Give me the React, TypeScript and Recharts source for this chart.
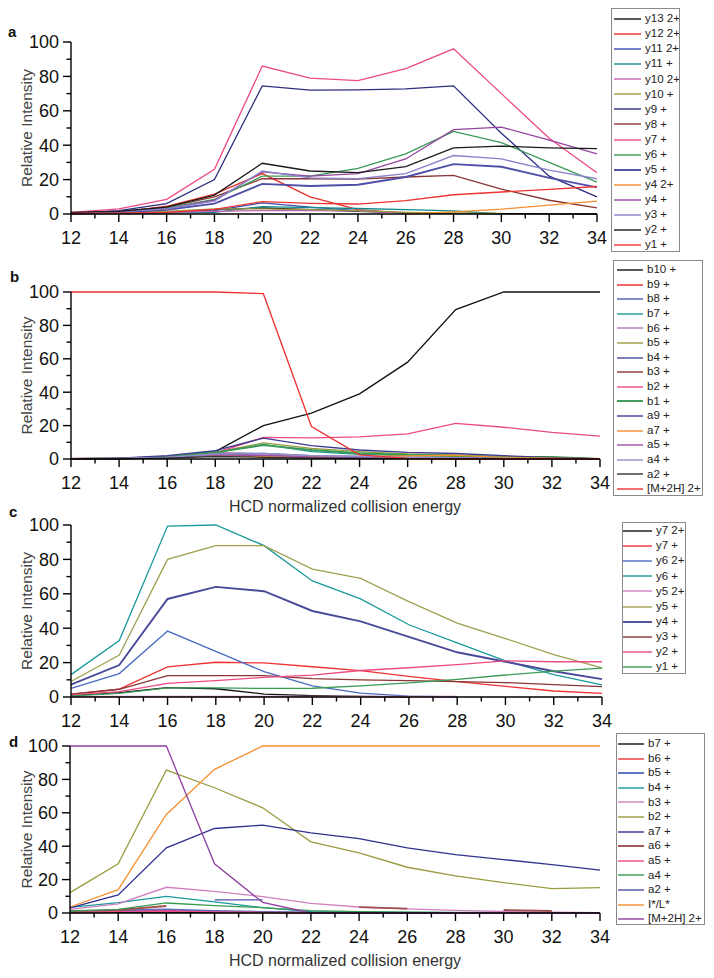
import React from "react";
import { LineChart, Line, XAxis, YAxis, Legend } from "recharts";

const FONT = '"Liberation Sans", Arial, Helvetica, sans-serif';

const energy = [12, 14, 16, 18, 20, 22, 24, 26, 28, 30, 32, 34];
const energyTicks = [12, 13, 14, 15, 16, 17, 18, 19, 20, 21, 22, 23, 24, 25, 26, 27, 28, 29, 30, 31, 32, 33, 34];
const intensityTicks = [0, 10, 20, 30, 40, 50, 60, 70, 80, 90, 100];

// panel a
const aY13_2 = [0.3, 0.5, 1.2, 2.5, 3.5, 2.5, 1.5, 0.8, 0.4, 0.2, 0.1, 0];
const aY12_2 = [0.5, 1, 4.5, 11.5, 23.5, 10, 2.5, 0.5, null, null, null, null];
const aY11_2 = [0.3, 0.5, 1, 2, 6.5, 4, 2, 0.5, null, null, null, null];
const aY11 = [0.2, 0.3, 0.5, 1, 4.3, 3.7, 3.2, 2.5, 1.8, 0, null, null];
const aY10_2 = [0.3, 0.5, 1, 1.5, 2, 2, 1.8, 0.5, null, null, null, null];
const aY10 = [0.3, 0.6, 1.5, 3, 3, 2.5, 2, 1, 0.5, 0.3, null, null];
const aY9 = [0.5, 2, 6, 20, 74.5, 72, 72.2, 72.8, 74.5, 47, 22, 10];
const aY8 = [0.5, 1.5, 4, 10, 20.5, 20.5, 20.3, 21.5, 22.5, 14.5, 8, 3.5];
const aY7 = [1, 3, 8.5, 26, 86, 79, 77.5, 84.5, 96, 70, 44, 24];
const aY6 = [0.5, 1.5, 3.5, 8.5, 22, 22, 26.5, 35, 48, 41.5, 30, 18.5];
const aY5 = [0.3, 1, 2.5, 6, 17.5, 16.3, 17, 21.5, 29, 27.5, 21, 15.5];
const aY4_2 = [null, null, null, null, null, null, null, 0, 1.2, 2.8, 5.2, 7.5];
const aY4 = [0.5, 1.5, 3, 8, 24.5, 22, 23.5, 32, 49, 50.5, 43, 35];
const aY3 = [0.5, 1.2, 3, 7.5, 25, 21, 20.5, 23.5, 34, 32, 25.5, 20.5];
const aY2 = [1, 1.5, 4, 11, 29.5, 25, 24, 27.5, 38.5, 39.5, 38.5, 38];
const aY1 = [0.3, 0.5, 1, 2.7, 7.2, 6.2, 5.8, 7.8, 11.2, 12.8, 14.3, 16];

// panel b
const bB10 = [0, 0.3, 1.2, 4.4, 20, 27.5, 39, 58, 89.5, 100, 100, 100];
const bB9 = [0.2, 0.3, 1, 3.5, 3, 1.5, 1, 0.5, 0.5, 0.3, 0.2, 0];
const bB8 = [0.1, 0.3, 1.2, 3.5, 3.3, 2, 1.5, 1, 0.8, 0.5, 0.3, 0];
const bB7 = [0.1, 0.3, 1.2, 3.8, 8.8, 4.4, 2.8, 2, 1.6, 1, 0.6, 0];
const bB6 = [0.1, 0.2, 1, 3, 2.5, 1.5, 1, 0.6, 0.5, 0.3, 0.2, 0];
const bB5 = [0.1, 0.3, 1.3, 4, 9.6, 6.4, 4.4, 3, 2.4, 1.4, 0.6, 0];
const bB4 = [0.1, 0.3, 1, 3, 2, 1.2, 0.8, 0.5, 0.4, 0.3, 0.2, 0];
const bB3 = [0.1, 0.2, 0.8, 2.5, 1.5, 1, 0.8, 0.5, 0.4, 0.5, 1, 0];
const bB2 = [0.1, 0.3, 1.2, 3.6, 13, 12.7, 13.2, 15, 21.3, 19, 16, 13.7];
const bB1 = [0.1, 0.3, 1.2, 4, 8.3, 5.4, 3.4, 2.4, 1.8, 1.2, 1.3, 0];
const bA9 = [0.2, 0.5, 2, 5, 12.5, 8, 5.4, 4, 3.3, 2, 0.8, 0];
const bA7 = [0.1, 0.2, 0.8, 2, 1.5, 1.5, 1.5, 1.8, 2.2, 1, 0.5, 0];
const bA5 = [0.1, 0.2, 0.8, 2.5, 2.2, 1.2, 0.8, 0.5, 0.3, 0.2, 0.1, 0];
const bA4 = [0.1, 0.3, 1, 3, 3.3, 2, 1.5, 1, 0.6, 0.4, 0.2, 0];
const bA2 = [0, 0.1, 0.5, 1.5, 1, 0.5, 0.3, 0.2, 0.1, 0.1, 0.1, 0];
const bPrecursor = [100, 100, 100, 100, 99, 19.5, 2.5, 0.4, 0, 0, 0, 0];

// panel c
const cY7_2 = [0.8, 2.5, 5.4, 4.8, 1.7, 0.8, 0.4, 0, null, null, null, null];
const cY7 = [1.7, 4.6, 17.5, 20.2, 19.8, 17.6, 15.3, 12, 8.9, 6.2, 3.5, 2.1];
const cY6_2 = [5, 13.6, 38.3, 26.5, 14.8, 6.5, 2.3, 0.5, 0, null, null, null];
const cY6 = [13, 32.8, 99.4, 100, 88, 67.5, 57, 42, 31.5, 21, 13, 7];
const cY5_2 = [0.2, 0.3, 0.3, 0.3, 0.3, 0.3, 0.3, 0.3, 0.3, null, null, null];
const cY5 = [9, 24.4, 80, 88, 88, 74.4, 69, 55.5, 43, 34, 24.6, 17];
const cY4 = [7.2, 18.6, 57, 64, 61.5, 50, 44, 35, 26, 20.5, 15, 10.4];
const cY3 = [1.6, 4.5, 12.4, 12.4, 12.4, 10.7, 9.9, 9.5, 8.9, 8.4, 7.2, 6];
const cY2 = [1.2, 3.1, 7.9, 9.5, 11.4, 12.7, 15.4, 17, 18.8, 21, 20.5, 20.5];
const cY1 = [0.6, 2.1, 5.3, 5.3, 5, 5.1, 6.5, 8.2, 10.2, 12.8, 15, 16.8];

// panel d
const dB7 = [0.2, 0.4, 0.5, 0.3, 0.2, 0.1, 0, 0, 0, 0, 0, 0];
const dB6 = [0.3, 1, 1.6, 0.8, 0.5, 0.3, 0.2, 0.1, 0, 0, 0, 0];
const dB5 = [0.8, 1.5, 2.2, 1.2, 0.7, 0.4, 0.2, 0.1, 0.1, 0, 0, 0];
const dB4 = [3.4, 6.2, 10, 6.6, 3.2, 0.8, 0.5, 0.3, 0.2, 0.1, 0, 0];
const dB3 = [2.2, 5.5, 15.4, 13, 9.8, 5.8, 3.6, 2.5, 1.6, 0.9, 0.5, 0.2];
const dB2 = [12.2, 29.5, 85.6, 75, 63, 42.6, 36, 27.4, 22.2, 18.2, 14.6, 15.2];
const dA7 = [3, 10.8, 39, 50.6, 52.6, 48, 44.6, 39, 35, 32, 29, 25.7];
const dA6 = [0.6, 1.8, 4.2, null, null, null, 3.5, 2.6, null, 1.8, 1.2, null];
const dA5 = [0.3, 0.8, 1.2, 0.7, 0.4, 0.2, 0.1, 0, 0, 0, 0, 0];
const dA4 = [1.2, 2.2, 6, 4.4, 3.2, 1.4, 0.8, 0.5, 0.3, 0.2, 0.1, 0];
const dA2 = [null, null, null, 7.8, 7.8, null, null, null, null, null, null, null];
const dIL = [3.6, 14, 59, 86, 100, 100, 100, 100, 100, 100, 100, 100];
const dPrecursor = [100, 100, 100, 29.5, 6.3, 0, 0, 0, 0, 0, 0, 0];

type Series = { name: string; values: (number | null)[]; color: string; width?: number };

const panelA: Series[] = [
  { name: "y13 2+", values: aY13_2, color: "#111111" },
  { name: "y12 2+", values: aY12_2, color: "#e8302c" },
  { name: "y11 2+", values: aY11_2, color: "#3a4db0" },
  { name: "y11 +", values: aY11, color: "#138a8a" },
  { name: "y10 2+", values: aY10_2, color: "#c462b6" },
  { name: "y10 +", values: aY10, color: "#9a9a40" },
  { name: "y9 +", values: aY9, color: "#2c2c80" },
  { name: "y8 +", values: aY8, color: "#8b3535" },
  { name: "y7 +", values: aY7, color: "#ec4a86" },
  { name: "y6 +", values: aY6, color: "#3a9a55" },
  { name: "y5 +", values: aY5, color: "#4f4fa8", width: 1.9 },
  { name: "y4 2+", values: aY4_2, color: "#f5902f" },
  { name: "y4 +", values: aY4, color: "#9444a0" },
  { name: "y3 +", values: aY3, color: "#8a84cc" },
  { name: "y2 +", values: aY2, color: "#1a1a1a" },
  { name: "y1 +", values: aY1, color: "#ee3333" },
];

const panelB: Series[] = [
  { name: "b10 +", values: bB10, color: "#111111" },
  { name: "b9 +", values: bB9, color: "#f06060", width: 1.9 },
  { name: "b8 +", values: bB8, color: "#4a5cb4" },
  { name: "b7 +", values: bB7, color: "#1a9a9a" },
  { name: "b6 +", values: bB6, color: "#c79ac7", width: 1.9 },
  { name: "b5 +", values: bB5, color: "#9a9a40" },
  { name: "b4 +", values: bB4, color: "#4a4a9a" },
  { name: "b3 +", values: bB3, color: "#8b3535" },
  { name: "b2 +", values: bB2, color: "#ec4a86" },
  { name: "b1 +", values: bB1, color: "#3a9a55", width: 1.9 },
  { name: "a9 +", values: bA9, color: "#3a3a90" },
  { name: "a7 +", values: bA7, color: "#f5902f" },
  { name: "a5 +", values: bA5, color: "#a050a8" },
  { name: "a4 +", values: bA4, color: "#9090d0" },
  { name: "a2 +", values: bA2, color: "#333333" },
  { name: "[M+2H] 2+", values: bPrecursor, color: "#ee3030" },
];

const panelC: Series[] = [
  { name: "y7 2+", values: cY7_2, color: "#111111" },
  { name: "y7 +", values: cY7, color: "#ee3333" },
  { name: "y6 2+", values: cY6_2, color: "#4a6ac0" },
  { name: "y6 +", values: cY6, color: "#1a9a9a" },
  { name: "y5 2+", values: cY5_2, color: "#d080c0" },
  { name: "y5 +", values: cY5, color: "#a0a050" },
  { name: "y4 +", values: cY4, color: "#4a4a9a", width: 1.9 },
  { name: "y3 +", values: cY3, color: "#8b3535" },
  { name: "y2 +", values: cY2, color: "#ec4a86" },
  { name: "y1 +", values: cY1, color: "#3a9a55" },
];

const panelD: Series[] = [
  { name: "b7 +", values: dB7, color: "#111111" },
  { name: "b6 +", values: dB6, color: "#ee3333" },
  { name: "b5 +", values: dB5, color: "#5a70c0", width: 1.9 },
  { name: "b4 +", values: dB4, color: "#1a9a9a" },
  { name: "b3 +", values: dB3, color: "#d080c0" },
  { name: "b2 +", values: dB2, color: "#9a9a40" },
  { name: "a7 +", values: dA7, color: "#303090" },
  { name: "a6 +", values: dA6, color: "#a05050", width: 1.9 },
  { name: "a5 +", values: dA5, color: "#ec4a86" },
  { name: "a4 +", values: dA4, color: "#3a9a55" },
  { name: "a2 +", values: dA2, color: "#5050a8" },
  { name: "I*/L*", values: dIL, color: "#f5902f" },
  { name: "[M+2H] 2+", values: dPrecursor, color: "#9040a0" },
];

function EnergyTick({ x, y, payload }: any) {
  const v = payload.value;
  const major = v % 2 === 0;
  return (
    <g>
      <line x1={x} x2={x} y1={y} y2={y + (major ? 8 : 4.5)} stroke="#000" strokeWidth={1.4} />
      {major && (
        <text x={x} y={y + 30} textAnchor="middle" fontSize={18} fontFamily={FONT} fill="#111">
          {v}
        </text>
      )}
    </g>
  );
}

function IntensityTick({ x, y, payload }: any) {
  const v = payload.value;
  const major = v % 20 === 0;
  return (
    <g>
      <line x1={x} x2={x - (major ? 8 : 4.5)} y1={y} y2={y} stroke="#000" strokeWidth={1.4} />
      {major && (
        <text x={x - 12} y={y} dy="0.36em" textAnchor="end" fontSize={18} fontFamily={FONT} fill="#111">
          {v}
        </text>
      )}
    </g>
  );
}

function IntensityTitle({ cy }: { cy: number }) {
  return (
    <text
      transform={`translate(32, ${cy}) rotate(-90)`}
      textAnchor="middle"
      fontSize={15.5}
      fontFamily={FONT}
      fill="#444"
    >
      Relative Intensity
    </text>
  );
}

function EnergyTitle({ baseline }: { baseline: number }) {
  return (
    <text x={345} y={baseline} textAnchor="middle" fontSize={16} fontFamily={FONT} fill="#333">
      HCD normalized collision energy
    </text>
  );
}

type Box = { left: number; top: number; w: number; h: number; pad: number; row: number; inset: number; swatch: number };

function Key({ items, box }: { items: Series[]; box: Box }) {
  return (
    <div
      style={{
        width: box.w,
        height: box.h,
        boxSizing: "border-box",
        border: "1px solid #8a8a8a",
        background: "#fff",
        paddingTop: box.pad,
        fontFamily: FONT,
        overflow: "hidden",
      }}
    >
      {items.map((s) => (
        <div key={s.name} style={{ height: box.row, display: "flex", alignItems: "center" }}>
          <svg width={box.swatch + box.inset + 3} height={6} style={{ flex: "none" }}>
            <line
              x1={box.inset - 1}
              x2={box.inset - 1 + box.swatch}
              y1={3}
              y2={3}
              stroke={s.color}
              strokeWidth={s.width ?? 1.4}
            />
          </svg>
          <span style={{ fontSize: 11.5, lineHeight: 1, color: "#222", whiteSpace: "nowrap" }}>{s.name}</span>
        </div>
      ))}
    </div>
  );
}

type PanelProps = {
  top: number;
  height: number;
  marginTop: number;
  marginRight: number;
  yAxisWidth: number;
  xAxisHeight: number;
  series: Series[];
  box: Box;
  withTitle?: boolean;
};

function Panel({ top, height, marginTop, marginRight, yAxisWidth, xAxisHeight, series, box, withTitle }: PanelProps) {
  const data = energy.map((e, i) => {
    const row: Record<string, number | null> = { e };
    series.forEach((s, k) => {
      row[`s${k}`] = s.values[i];
    });
    return row;
  });
  const plotBottom = height - xAxisHeight;
  const cy = (marginTop + plotBottom) / 2;

  return (
    <div style={{ position: "absolute", left: 0, top, width: 714, height }}>
      <LineChart
        width={714}
        height={height}
        data={data}
        margin={{ top: marginTop, right: marginRight, bottom: 0, left: 0 }}
      >
        <XAxis
          dataKey="e"
          type="number"
          domain={[12, 34]}
          ticks={energyTicks}
          interval={0}
          height={xAxisHeight}
          tickSize={0}
          tickMargin={0}
          tickLine={false}
          axisLine={{ stroke: "#000", strokeWidth: 1.4 }}
          tick={(p: any) => <EnergyTick {...p} />}
          label={withTitle ? <EnergyTitle baseline={plotBottom + 53} /> : undefined}
        />
        <YAxis
          type="number"
          domain={[0, 100]}
          ticks={intensityTicks}
          interval={0}
          width={yAxisWidth}
          tickSize={0}
          tickMargin={0}
          tickLine={false}
          axisLine={{ stroke: "#000", strokeWidth: 1.4 }}
          tick={(p: any) => <IntensityTick {...p} />}
          label={<IntensityTitle cy={cy} />}
        />
        {series.map((s, k) => (
          <Line
            key={s.name}
            dataKey={`s${k}`}
            name={s.name}
            type="linear"
            stroke={s.color}
            strokeWidth={s.width ?? 1.3}
            dot={false}
            activeDot={false}
            connectNulls={false}
            isAnimationActive={false}
          />
        ))}
        <Legend
          layout="vertical"
          align="center"
          verticalAlign="middle"
          wrapperStyle={{ left: box.left, top: box.top, width: box.w, height: box.h }}
          content={() => <Key items={series} box={box} />}
        />
      </LineChart>
    </div>
  );
}

export default function App() {
  return (
    <div style={{ position: "absolute", left: 0, top: 0, width: 714, height: 978, background: "#fff" }}>
      <Panel
        top={0}
        height={255}
        marginTop={42}
        marginRight={117}
        yAxisWidth={71}
        xAxisHeight={41}
        series={panelA}
        box={{ left: 611, top: 8, w: 69, h: 244, pad: 2.5, row: 15.07, inset: 3, swatch: 27 }}
      />
      <Panel
        top={255}
        height={265}
        marginTop={37}
        marginRight={114}
        yAxisWidth={71}
        xAxisHeight={61}
        series={panelB}
        withTitle
        box={{ left: 613, top: 5, w: 90, h: 236, pad: 1.7, row: 14.6, inset: 4, swatch: 26 }}
      />
      <Panel
        top={505}
        height={230}
        marginTop={20}
        marginRight={112}
        yAxisWidth={71}
        xAxisHeight={38}
        series={panelC}
        box={{ left: 622, top: 17, w: 64, h: 152, pad: 0.5, row: 15.1, inset: 1, swatch: 29 }}
      />
      <Panel
        top={725}
        height={253}
        marginTop={21}
        marginRight={114}
        yAxisWidth={70}
        xAxisHeight={65}
        series={panelD}
        withTitle
        box={{ left: 616, top: 8, w: 89, h: 192, pad: 2.7, row: 14.6, inset: 2, swatch: 26 }}
      />
      <svg
        width={714}
        height={978}
        style={{ position: "absolute", left: 0, top: 0, pointerEvents: "none" }}
      >
        <g fontFamily={FONT} fontWeight="bold" fontSize={15} fill="#111">
          <text x={8} y={37}>a</text>
          <text x={10} y={282}>b</text>
          <text x={9} y={517}>c</text>
          <text x={9} y={747}>d</text>
        </g>
      </svg>
    </div>
  );
}
